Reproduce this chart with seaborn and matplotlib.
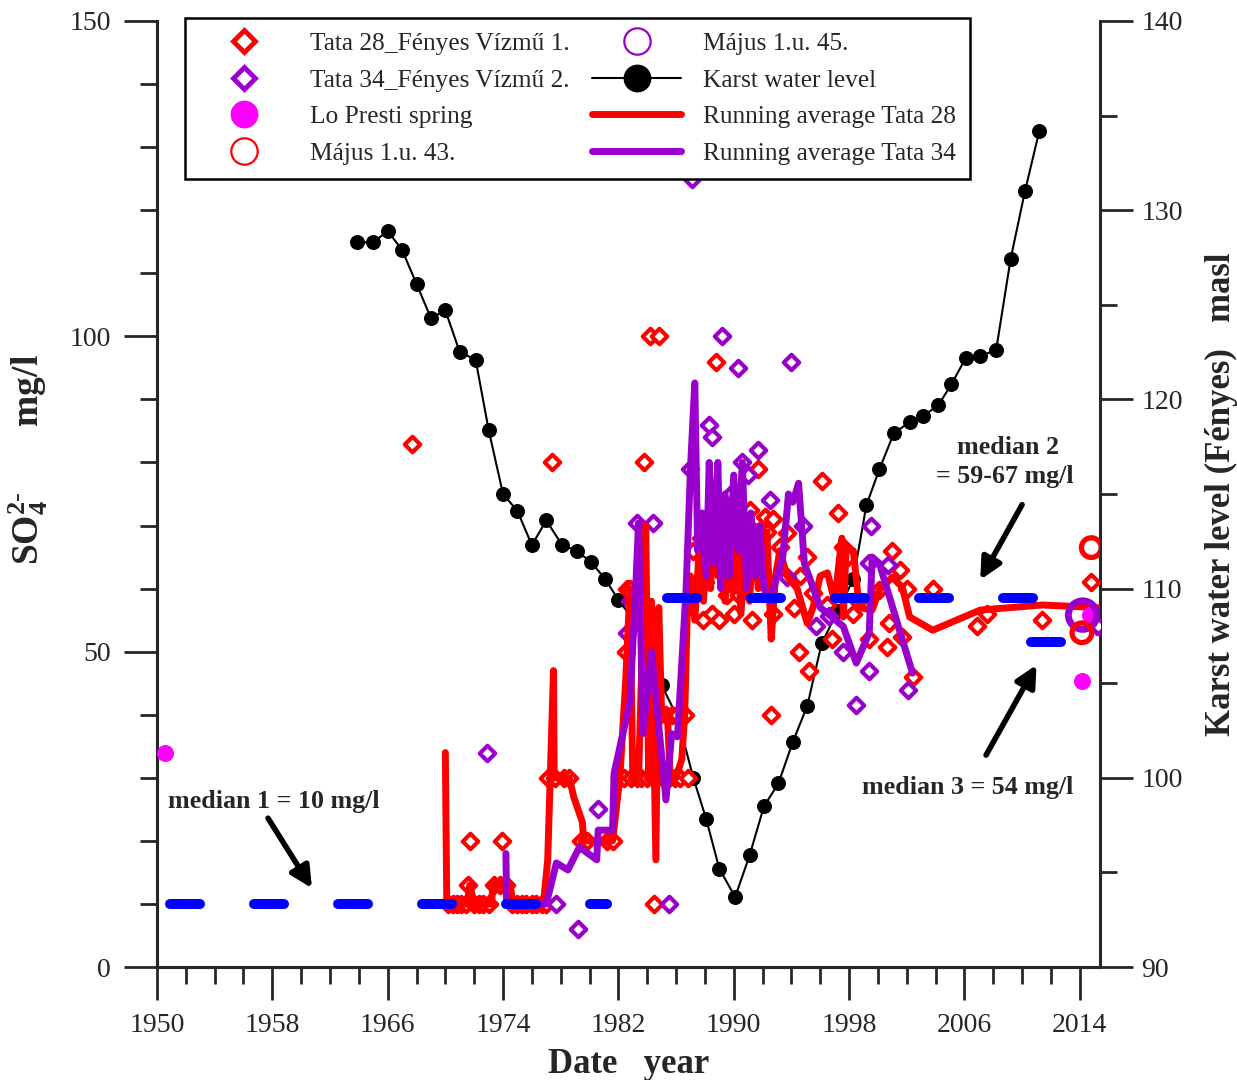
import matplotlib
matplotlib.use('Agg')
import matplotlib.pyplot as plt
from matplotlib.lines import Line2D
import seaborn as sns

# ---- values ----
# Tata 28 (red open diamonds)
t28_year = [1967.7, 1970.2, 1970.5, 1970.8, 1971.1, 1971.4, 1971.6, 1971.7, 1972.0, 1972.3,
            1972.6, 1973.0, 1973.4, 1973.8, 1973.9, 1974.2, 1974.6, 1975.0, 1975.3, 1975.6,
            1976.0, 1976.3, 1976.7, 1977.0, 1977.1, 1977.4, 1977.6, 1978.2, 1978.6, 1979.4,
            1979.8, 1981.2, 1981.6, 1982.1, 1982.4, 1982.5, 1982.6, 1982.8, 1982.9, 1983.3,
            1983.6, 1983.8, 1984.0, 1984.2, 1984.4, 1984.5, 1984.8, 1984.9, 1985.1, 1985.3,
            1985.5, 1985.7, 1985.9, 1986.1, 1986.3, 1986.6, 1986.8, 1987.2, 1987.7, 1987.9,
            1988.0, 1988.1, 1988.5, 1988.8, 1988.8, 1989.0, 1989.5, 1989.5, 1989.7, 1990.0,
            1990.4, 1990.6, 1991.1, 1991.3, 1991.6, 1991.7, 1992.2, 1992.3, 1992.6, 1992.7,
            1992.7, 1993.2, 1993.7, 1994.2, 1994.5, 1994.6, 1995.1, 1995.2, 1995.5, 1996.1,
            1996.5, 1996.8, 1997.2, 1997.6, 1997.9, 1998.3, 1998.6, 1999.4, 2000.1, 2000.6,
            2000.8, 2001.0, 2001.5, 2001.7, 2002.0, 2002.4, 2003.8, 2006.9, 2007.6, 2011.4,
            2014.8, 2015.2]
t28_so4 = [83, 10, 10, 10, 10, 10, 13, 20, 10, 10,
           10, 10, 13, 13, 20, 13, 10, 10, 10, 10,
           10, 10, 10, 10, 30, 80, 30, 30, 30, 20,
           20, 20, 20, 30, 30, 50, 60, 60, 30, 30,
           30, 80, 30, 100, 30, 10, 100, 40, 30, 40,
           30, 40, 30, 40, 30, 40, 30, 66, 68, 55,
           61, 64.5, 56, 74, 96, 55, 59, 70, 62, 56,
           59, 67, 72.5, 55, 63.5, 79, 71.4, 69, 40, 71,
           56, 66.6, 68.8, 57, 50, 62, 65, 47, 59.3, 77,
           57.4, 52, 72, 66.6, 65, 56, 58, 52, 59.8, 50.7,
           54.5, 66, 63, 52.3, 60, 46, 60, 54, 56, 55,
           61, 54]

# Tata 34 (purple open diamonds)
t34_year = [1972.9, 1977.7, 1979.2, 1980.6, 1982.6, 1982.8, 1983.3, 1984.4, 1985.5, 1987.0,
            1987.1, 1988.3, 1988.5, 1989.2, 1989.8, 1990.3, 1990.6, 1991.0, 1991.7, 1992.5,
            1993.7, 1994.0, 1994.8, 1995.7, 1996.6, 1997.6, 1998.5, 1999.4, 1999.4, 1999.5,
            2000.7, 2002.1, 2015.3]
t34_so4 = [34, 10, 6, 25, 53, 58, 70.4, 70.4, 10, 79,
           125, 86, 84, 100, 75, 95, 80, 78, 82, 74,
           61.8, 96, 70, 54, 55.6, 50, 41.5, 47, 64, 70,
           63.7, 44, 54]

# Lo Presti spring (magenta dots)
lopresti_year = [1950.55, 2014.15, 2014.7]
lopresti_so4 = [33.9, 45.4, 55.8]

# Majus 1.u. 43 (red open circles) and 45 (purple open circle)
m43_year = [2014.8, 2014.15]
m43_so4 = [66.5, 53]
m45_year = [2014.2]
m45_so4 = [55.8]

# Running averages
ra28_year = [1970.0, 1970.1, 1971.5, 1971.7, 1972.0, 1973.2, 1973.3, 1974.5, 1974.7, 1976.8,
             1977.1, 1977.5, 1977.55, 1978.6, 1978.9, 1979.5, 1979.6, 1981.6, 1982.1, 1982.5,
             1982.8, 1983.0, 1983.4, 1983.9, 1984.1, 1984.3, 1984.6, 1984.8, 1985.0, 1985.4,
             1985.6, 1986.0, 1986.4, 1986.6, 1986.8, 1987.0, 1987.3, 1987.6, 1987.9, 1988.2,
             1988.4, 1988.6, 1988.9, 1989.1, 1989.4, 1989.7, 1990.0, 1990.2, 1990.5, 1990.8,
             1991.1, 1991.4, 1991.7, 1992.0, 1992.3, 1992.6, 1992.9, 1993.2, 1993.7, 1994.4,
             1995.1, 1995.5, 1996.0, 1996.5, 1997.0, 1997.5, 1997.6, 1997.8, 1998.3, 1998.7,
             1999.6, 2000.1, 2001.0, 2001.7, 2002.2, 2003.8, 2007.1, 2011.4, 2015.2]
ra28_so4 = [34, 10, 10, 13, 10, 10, 13, 13, 10, 10,
            17, 47, 30, 30, 27, 23, 20, 20, 30, 45,
            60, 30, 30, 70, 30, 58, 17, 57, 40, 40,
            30, 30, 33, 40, 58, 62, 55, 66, 58, 70,
            60, 74, 62, 68, 58, 65, 60, 70, 56, 66,
            58, 70, 60, 64, 69, 52, 62, 66, 62, 60,
            54.5, 57, 62, 62.5, 58, 68, 55.5, 66.6, 66, 57,
            56.6, 59.8, 61.8, 60.2, 55.5, 53.4, 56.6, 57.4, 57]

ra34_year = [1974.2, 1974.25, 1977.0, 1977.7, 1978.5, 1979.3, 1980.5, 1980.6, 1981.6, 1981.7,
             1982.8, 1983.2, 1983.4, 1983.7, 1984.3, 1985.3, 1985.7, 1986.1, 1986.7, 1987.0,
             1987.3, 1987.5, 1987.8, 1988.1, 1988.3, 1988.6, 1988.9, 1989.1, 1989.4, 1989.7,
             1990.0, 1990.3, 1990.6, 1990.9, 1991.2, 1991.5, 1991.8, 1992.1, 1992.5, 1993.4,
             1993.8, 1994.1, 1994.5, 1994.9, 1996.0, 1997.6, 1998.5, 1999.4, 1999.6, 2000.1,
             2002.4]
ra34_so4 = [18, 10, 10, 16.5, 15.4, 19, 17, 21.7, 21.7, 30.7,
            42, 60, 70.4, 37, 50, 26.5, 37, 36.5, 60, 79,
            92.6, 66, 72, 62, 80, 64, 80, 60, 75, 62,
            78, 66, 80, 60, 72, 62, 70, 60, 58, 65,
            75, 73.7, 76.7, 64, 57, 54, 48.2, 53, 65, 64,
            46.6]

# Karst water level (right axis, masl)
karst_year = [1963.9, 1965.0, 1966.0, 1967.0, 1968.0, 1969.0, 1970.0, 1971.0, 1972.1, 1973.0,
              1974.0, 1975.0, 1976.0, 1977.0, 1978.1, 1979.1, 1980.1, 1981.1, 1982.0, 1983.1,
              1984.0, 1985.0, 1986.1, 1987.2, 1988.1, 1989.0, 1990.1, 1991.1, 1992.1, 1993.1,
              1994.1, 1995.1, 1996.1, 1997.2, 1998.3, 1999.2, 2000.1, 2001.1, 2002.2, 2003.1,
              2004.2, 2005.1, 2006.1, 2007.1, 2008.2, 2009.2, 2010.2, 2011.2]
karst_level = [128.3, 128.3, 128.9, 127.9, 126.1, 124.3, 124.7, 122.5, 122.1, 118.4,
               115.0, 114.1, 112.3, 113.6, 112.3, 112.0, 111.4, 110.5, 109.4, 108.3,
               106.6, 104.9, 103.2, 100.0, 97.8, 95.2, 93.7, 95.9, 98.5, 99.7,
               101.9, 103.8, 107.1, 108.8, 110.5, 114.4, 116.3, 118.2, 118.8, 119.1,
               119.7, 120.8, 122.2, 122.3, 122.6, 127.4, 131.0, 134.2]

# Median lines
med1_year = [1950.9, 1981.2]
med1_so4 = [10, 10]
med2_year = [1985.4, 2010.9]
med2_so4 = [58.5, 58.5]
med3_year = [2010.6, 2013.3]
med3_so4 = [51.5, 51.5]

year_ticks = list(range(1950, 2015, 8))
year_minor = list(range(1950, 2016, 2))

# ---- styling ----
RED = '#ff0000'
PURPLE = '#9900cc'
MAGENTA = '#ff00ff'
BLUE = '#0000ff'

sns.set_style('ticks')
plt.rcParams['font.family'] = ['Liberation Serif', 'DejaVu Serif']
plt.rcParams['mathtext.fontset'] = 'custom'
plt.rcParams['mathtext.rm'] = 'Liberation Serif'
plt.rcParams['mathtext.bf'] = 'Liberation Serif:bold'

fig = plt.figure(figsize=(12.37, 10.8), dpi=100)
ax = fig.add_axes([0.1269, 0.1046, 0.7623, 0.876])
ax2 = ax.twinx()

# karst water level on the right axis, drawn below the primary axis
sns.lineplot(x=karst_year, y=karst_level, ax=ax2, color='black', lw=1.5,
             marker='o', markersize=10, markeredgecolor='black', sort=False, estimator=None)
ax.set_zorder(ax2.get_zorder() + 1)
ax.patch.set_visible(False)

sns.scatterplot(x=t28_year, y=t28_so4, ax=ax, marker='D', s=62, color='white',
                edgecolor=RED, linewidth=3, zorder=2)
sns.scatterplot(x=t34_year, y=t34_so4, ax=ax, marker='D', s=62, color='white',
                edgecolor=PURPLE, linewidth=3, zorder=2)
sns.lineplot(x=ra28_year, y=ra28_so4, ax=ax, color=RED, lw=5, sort=False,
             estimator=None, zorder=3, solid_joinstyle='round', solid_capstyle='round')
sns.lineplot(x=ra34_year, y=ra34_so4, ax=ax, color=PURPLE, lw=5, sort=False,
             estimator=None, zorder=4, solid_joinstyle='round', solid_capstyle='round')
for mx, my in [(med1_year, med1_so4), (med2_year, med2_so4), (med3_year, med3_so4)]:
    sns.lineplot(x=mx, y=my, ax=ax, color=BLUE, lw=7.2, estimator=None, zorder=5,
                 dashes=False, linestyle=(0, (3, 5.4)), dash_capstyle='round')
sns.scatterplot(x=lopresti_year, y=lopresti_so4, ax=ax, marker='o', s=150,
                color=MAGENTA, edgecolor=MAGENTA, linewidth=0, zorder=6)
sns.scatterplot(x=m45_year, y=m45_so4, ax=ax, marker='o', s=420, color='none',
                edgecolor=PURPLE, linewidth=5, zorder=7)
sns.scatterplot(x=m43_year, y=m43_so4, ax=ax, marker='o', s=200, color='none',
                edgecolor=RED, linewidth=3.8, zorder=8)

# axes
ax.set_xlim(1950, 2015.4)
ax.set_ylim(0, 150)
ax2.set_ylim(90, 140)
ax.set_xticks(year_ticks)
ax.set_xticks(year_minor, minor=True)
ax.set_yticks(range(0, 151, 50))
ax.set_yticks(range(0, 151, 10), minor=True)
ax2.set_yticks(range(90, 141, 10))
ax2.set_yticks(range(90, 141, 5), minor=True)

for a in (ax, ax2):
    a.spines['top'].set_visible(False)
    for s in a.spines.values():
        s.set_linewidth(2.2)
    a.tick_params(which='major', direction='out', length=24, width=2, labelsize=20)
    a.tick_params(which='minor', direction='out', length=12, width=2)
ax.spines['right'].set_visible(False)
ax.tick_params(axis='x', which='major', pad=9)
ax.tick_params(axis='y', which='major', pad=9)
ax2.tick_params(axis='y', which='major', pad=6)

ax.set_xlabel('Date   year', fontsize=25, fontweight='bold', labelpad=7)
ax.set_ylabel(r'$\mathbf{SO_4^{2\text{-}}}$       mg/l', fontsize=27, fontweight='bold')
ax.yaxis.set_label_coords(-0.113, 0.536)
ax2.set_ylabel('Karst water level (Fényes)   masl', fontsize=25, fontweight='bold', labelpad=16)

# median annotations
arrow = dict(arrowstyle='-|>', color='black', lw=4, mutation_scale=32, shrinkA=0, shrinkB=0)
ax.annotate('', xy=(1960.75, 12.5), xytext=(1957.7, 23.6), arrowprops=arrow)
ax.annotate('', xy=(2007.1, 61.4), xytext=(2010.0, 73.3), arrowprops=arrow)
ax.annotate('', xy=(2011.0, 47.9), xytext=(2007.5, 33.6), arrowprops=arrow)
ax.text(1950.75, 26.2, 'median 1 = 10 mg/l', fontsize=18.7, fontweight='bold', va='center', ha='left')
ax.text(2009.0, 82.3, 'median 2', fontsize=18.7, fontweight='bold', va='center', ha='center')
ax.text(2008.8, 77.8, '= 59-67 mg/l', fontsize=18.7, fontweight='bold', va='center', ha='center')
ax.text(2006.2, 28.5, 'median 3 = 54 mg/l', fontsize=18.7, fontweight='bold', va='center', ha='center')

# legend
handles = [
    Line2D([], [], ls='', marker='D', ms=11, mfc='white', mec=RED, mew=3.5),
    Line2D([], [], ls='', marker='D', ms=11, mfc='white', mec=PURPLE, mew=3.5),
    Line2D([], [], ls='', marker='o', ms=19, mfc=MAGENTA, mec=MAGENTA),
    Line2D([], [], ls='', marker='o', ms=19, mfc='none', mec=RED, mew=1.6),
    Line2D([], [], ls='', marker='o', ms=19, mfc='none', mec=PURPLE, mew=1.6),
    Line2D([], [], color='black', lw=1.5, marker='o', ms=19, mfc='black', mec='black'),
    Line2D([], [], color=RED, lw=5, solid_capstyle='round'),
    Line2D([], [], color=PURPLE, lw=5, solid_capstyle='round'),
]
labels = ['Tata 28_Fényes Vízmű 1.', 'Tata 34_Fényes Vízmű 2.', 'Lo Presti spring',
          'Május 1.u. 43.', 'Május 1.u. 45.', 'Karst water level',
          'Running average Tata 28', 'Running average Tata 34']
leg = ax.legend(handles, labels, ncol=2, loc='upper left', bbox_to_anchor=(0.1496, 0.9833),
                bbox_transform=fig.transFigure, borderaxespad=0, fontsize=18.3,
                handlelength=3.5, handletextpad=0.87, columnspacing=0.88, labelspacing=0.55,
                borderpad=0.55, frameon=True, fancybox=False, edgecolor='black', framealpha=1)
leg.get_frame().set_linewidth(1.8)
leg.set_zorder(20)

fig.savefig('out.png', dpi=100)
